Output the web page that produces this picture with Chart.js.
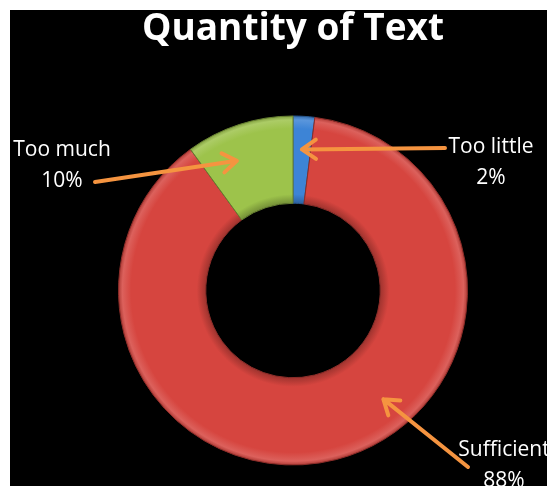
<!DOCTYPE html>
<html>
<head>
<meta charset="utf-8">
<title>Quantity of Text</title>
<script src="https://cdn.jsdelivr.net/npm/chart.js@4/dist/chart.umd.min.js"></script>
<style>
    body { margin: 0; background: #fff; }
    #myChart { position: absolute; left: 10px; top: 10px; background: #000; }
</style>
</head>
<body>
<canvas id="myChart" width="537" height="476"></canvas>
<script>
const categories = ['Too little', 'Sufficient', 'Too much'];
const percents = [2, 88, 10];
const sliceColors = ['#3d84d6', '#d6453f', '#9dc34b'];

// where each label sits and where its arrow points inside the slice
const labelLayout = [
    { x: 481, y: 137, tailX: 435, tailY: 138, along: 0.5 },
    { x: 494, y: 440, tailX: 458, tailY: 457, along: 0.42 },
    { x: 52, y: 140, tailX: 85, tailY: 172, along: 0.35 }
];

function shade(hex, f) {
    const n = parseInt(hex.slice(1), 16);
    const ch = [n >> 16, (n >> 8) & 255, n & 255].map(v => {
        const out = f < 0 ? v * (1 + f) : v + (255 - v) * f;
        return Math.round(Math.max(0, Math.min(255, out)));
    });
    return 'rgb(' + ch.join(',') + ')';
}

function ringFill(context) {
    const base = sliceColors[context.dataIndex];
    const chart = context.chart;
    const area = chart.chartArea;
    if (!area) return base;
    const cx = (area.left + area.right) / 2;
    const cy = (area.top + area.bottom) / 2;
    const outer = Math.min(area.right - area.left, area.bottom - area.top) / 2;
    const inner = outer * 0.5;
    const g = chart.ctx.createRadialGradient(cx, cy, inner, cx, cy, outer);
    g.addColorStop(0, shade(base, -0.25));
    g.addColorStop(0.1, base);
    g.addColorStop(0.85, base);
    g.addColorStop(0.95, shade(base, 0.15));
    g.addColorStop(1, shade(base, -0.2));
    return g;
}

function drawArrow(c, x1, y1, x2, y2) {
    const a = Math.atan2(y2 - y1, x2 - x1);
    const head = 17;
    c.beginPath();
    c.moveTo(x1, y1);
    c.lineTo(x2, y2);
    c.moveTo(x2 - head * Math.cos(a - 0.6), y2 - head * Math.sin(a - 0.6));
    c.lineTo(x2, y2);
    c.lineTo(x2 - head * Math.cos(a + 0.6), y2 - head * Math.sin(a + 0.6));
    c.stroke();
}

const calloutPlugin = {
    id: 'callouts',
    afterDatasetsDraw(chart) {
        const c = chart.ctx;
        const meta = chart.getDatasetMeta(0);
        c.save();
        c.strokeStyle = '#f59440';
        c.lineWidth = 4;
        c.lineCap = 'round';
        c.lineJoin = 'round';
        meta.data.forEach((arc, i) => {
            const lay = labelLayout[i];
            const ang = arc.startAngle + lay.along * (arc.endAngle - arc.startAngle);
            const r = arc.innerRadius + 0.62 * (arc.outerRadius - arc.innerRadius);
            drawArrow(c, lay.tailX, lay.tailY, arc.x + Math.cos(ang) * r, arc.y + Math.sin(ang) * r);
        });
        c.fillStyle = '#fff';
        c.font = '21px "Open Sans", sans-serif';
        c.textAlign = 'center';
        c.textBaseline = 'middle';
        meta.data.forEach((arc, i) => {
            const lay = labelLayout[i];
            c.fillText(categories[i], lay.x, lay.y);
            c.fillText(percents[i] + '%', lay.x, lay.y + 31);
        });
        c.restore();
    }
};

const ctx = document.getElementById('myChart').getContext('2d');
const chart = new Chart(ctx, {
    type: 'doughnut',
    data: {
        labels: categories,
        datasets: [{
            data: percents,
            backgroundColor: ringFill,
            borderColor: sliceColors.map(col => shade(col, -0.35)),
            borderWidth: 1
        }]
    },
    options: {
        responsive: false,
        animation: false,
        cutout: '50%',
        layout: { padding: { left: 108, right: 79, top: 0, bottom: 19 } },
        plugins: {
            legend: { display: false },
            tooltip: { enabled: false },
            title: {
                display: true,
                text: 'Quantity of Text',
                color: '#fff',
                font: { family: '"Open Sans", sans-serif', size: 37, weight: 'bold', lineHeight: 1.0 },
                padding: { top: 1, bottom: 66 }
            }
        }
    },
    plugins: [calloutPlugin]
});
</script>
</body>
</html>
